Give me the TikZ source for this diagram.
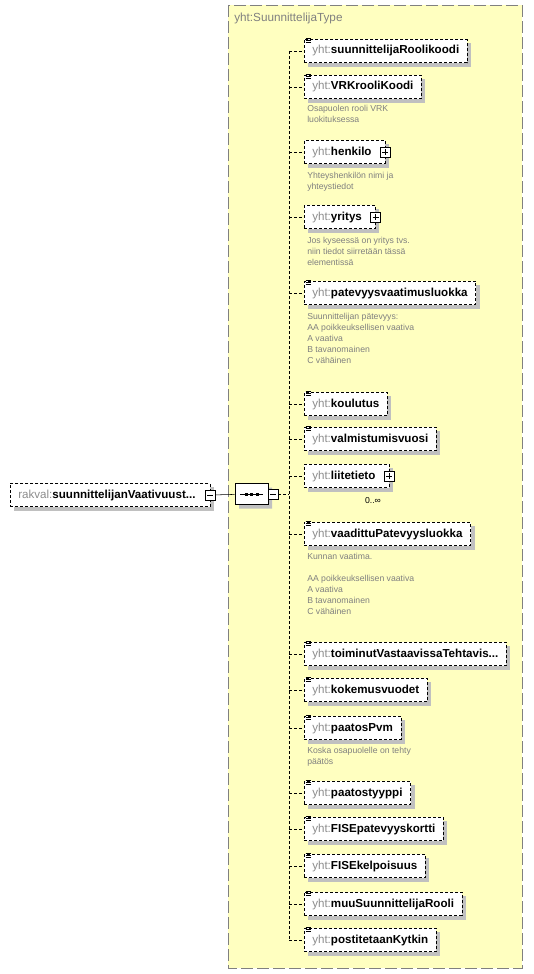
\documentclass[tikz,border=0pt]{standalone}
\usepackage{fontspec}
\setmainfont{Liberation Sans}
\usetikzlibrary{positioning,shapes.misc,shadows}
\definecolor{typefill}{RGB}{255,255,192}
\definecolor{typeline}{RGB}{128,128,128}
\definecolor{pfxgray}{RGB}{140,140,140}
\definecolor{notegray}{RGB}{128,128,128}
\definecolor{shadowgray}{RGB}{192,192,192}
\newcommand{\pfx}[2]{\textcolor{pfxgray}{#1:}\textbf{#2}}
\newcommand{\gap}[1]{\rule{#1}{0pt}}

\begin{document}
\begin{tikzpicture}[
  x=0.75pt, y=-0.75pt,
  shade/.style={drop shadow={shadow xshift=3pt, shadow yshift=-3pt, fill=shadowgray, opacity=1}},
  elem/.style={draw, dash pattern=on 2.25pt off 1.5pt, fill=white, anchor=west, shade,
    minimum height=17.5pt, inner xsep=6pt, inner ysep=0pt, font=\fontsize{8.7}{10}\selectfont},
  note/.style={anchor=north west, align=left, text=notegray, inner sep=0pt,
    font=\fontsize{6.5}{8.25}\selectfont},
  ctrl/.style={draw, solid, fill=white, minimum size=7.5pt, inner sep=0pt},
  minusbox/.style={ctrl, path picture={
    \draw ([xshift=1.5pt]path picture bounding box.west) -- ([xshift=-1.5pt]path picture bounding box.east);}},
  plusbox/.style={ctrl, path picture={
    \draw ([xshift=1.5pt]path picture bounding box.west) -- ([xshift=-1.5pt]path picture bounding box.east);
    \draw ([yshift=-1.5pt]path picture bounding box.north) -- ([yshift=1.5pt]path picture bounding box.south);}},
  conn/.style={dash pattern=on 2.25pt off 1.5pt},
  typebox/.style={draw=typeline, fill=typefill, dash pattern=on 9pt off 3pt}
]
\useasboundingbox (0,0) rectangle (533,974);

% Complex type container
\draw[typebox] (228,5) rectangle (522,968);
\node[anchor=west, inner sep=0pt, text=typeline, font=\fontsize{8.8}{10}\selectfont] (title) at (234,18) {yht:SuunnittelijaType};

% Root element
\node[elem] (root) at (10,495) {\pfx{rakval}{suunnittelijanVaativuust...}\gap{5pt}};
\node[minusbox] (rootm) at (root.east) {};

% Sequence compositor
\node[draw, fill=white, shade, chamfered rectangle, chamfered rectangle xsep=4.5pt,
  minimum width=24.75pt, minimum height=15.75pt, inner sep=0pt] (seq) at (251.5,494) {};
\draw (240,494) -- (263,494);
\fill (244.5,492.5) rectangle (247.5,495.5);
\fill (250,492.5) rectangle (253,495.5);
\fill (255.5,492.5) rectangle (258.5,495.5);
\node[minusbox] (seqm) at (273,494) {};
\draw (rootm) -- (seq);

% Child elements
\node[elem] (c1) at (304,51) {\pfx{yht}{suunnittelijaRoolikoodi}};
\node[elem] (c2) at (304,87) {\pfx{yht}{VRKrooliKoodi}};
\node[note] (d2) at (307,105) {Osapuolen rooli VRK\\luokituksessa};
\node[elem] (c3) at (304,152) {\pfx{yht}{henkilo}\gap{4pt}};
\node[plusbox] (c3p) at (c3.east) {};
\node[note] (d3) at (307,172) {Yhteyshenkilön nimi ja\\yhteystiedot};
\node[elem] (c4) at (304,217) {\pfx{yht}{yritys}\gap{4pt}};
\node[plusbox] (c4p) at (c4.east) {};
\node[note] (d4) at (307,237) {Jos kyseessä on yritys tvs.\\niin tiedot siirretään tässä\\elementissä};
\node[elem] (c5) at (304,293) {\pfx{yht}{patevyysvaatimusluokka}};
\node[note] (d5) at (307,313) {Suunnittelijan pätevyys:\\AA poikkeuksellisen vaativa\\A vaativa\\B tavanomainen\\C vähäinen};
\node[elem] (c6) at (304,404) {\pfx{yht}{koulutus}};
\node[elem] (c7) at (304,439) {\pfx{yht}{valmistumisvuosi}};
\node[elem] (c8) at (304,476) {\pfx{yht}{liitetieto}\gap{4pt}};
\node[plusbox] (c8p) at (c8.east) {};
\node[anchor=north, inner sep=0pt, font=\fontsize{6.5}{8}\selectfont] (c8n) at (373,497) {0..∞};
\node[elem] (c9) at (304,534) {\pfx{yht}{vaadittuPatevyysluokka}};
\node[note] (d9) at (307,553) {Kunnan vaatima.\\[8.25pt]AA poikkeuksellisen vaativa\\A vaativa\\B tavanomainen\\C vähäinen};
\node[elem] (c10) at (304,654) {\pfx{yht}{toiminutVastaavissaTehtavis...}};
\node[elem] (c11) at (304,690) {\pfx{yht}{kokemusvuodet}};
\node[elem] (c12) at (304,728) {\pfx{yht}{paatosPvm}};
\node[note] (d12) at (307,747) {Koska osapuolelle on tehty\\päätös};
\node[elem] (c13) at (304,793) {\pfx{yht}{paatostyyppi}};
\node[elem] (c14) at (304,829) {\pfx{yht}{FISEpatevyyskortti}};
\node[elem] (c15) at (304,866) {\pfx{yht}{FISEkelpoisuus}};
\node[elem] (c16) at (304,904) {\pfx{yht}{muuSuunnittelijaRooli}};
\node[elem] (c17) at (304,940) {\pfx{yht}{postitetaanKytkin}};

% Simple content marks
\foreach \n in {c1,c2,c5,c6,c7,c9,c10,c11,c12,c13,c14,c15,c16,c17}
  \foreach \dy in {-0.5,1.5,3.5}
    \draw ([shift={(1.5,\dy)}]\n.north west) -- ([shift={(6.5,\dy)}]\n.north west);

% Sequence bus
\coordinate (bustop) at (289,51);
\coordinate (busbot) at (289,940);
\draw[conn] (bustop) -- (busbot);
\draw[conn] (seqm) -- (bustop |- seqm);
\foreach \n in {c1,c2,c3,c4,c5,c6,c7,c8,c9,c10,c11,c12,c13,c14,c15,c16,c17}
  \draw[conn] (bustop |- \n.west) -- (\n.west);
\end{tikzpicture}
\end{document}
